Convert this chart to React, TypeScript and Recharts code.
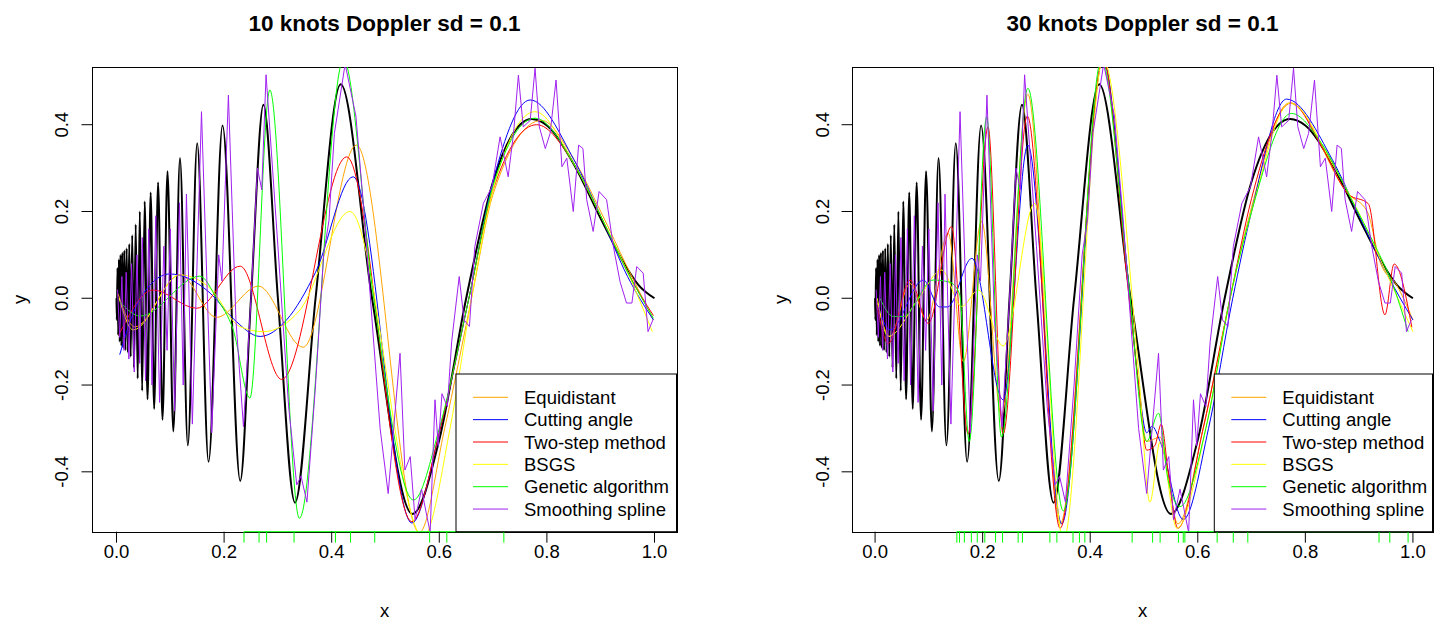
import { LineChart, Line, XAxis, YAxis, ReferenceLine } from 'recharts'

type Pt = [number, number]

const X_TICKS = [0, 0.2, 0.4, 0.6, 0.8, 1.0]
const Y_TICKS = [-0.4, -0.2, 0, 0.2, 0.4]
const Y_DOMAIN: [number, number] = [-0.538, 0.533]

// true Doppler curve (black) at its turning points
const doppler: Pt[] = [
  [0.0, 0.0], [0.0006, -0.05], [0.0019, 0.07], [0.0032, -0.085], [0.0045, 0.09], [0.006, -0.1],
  [0.0075, 0.1], [0.0092, -0.11], [0.0109, 0.105], [0.0127, -0.115], [0.0146, 0.11],
  [0.0167, -0.12], [0.0189, 0.115], [0.0212, -0.125], [0.0237, 0.125], [0.0264, -0.135],
  [0.0292, 0.145], [0.0324, -0.16], [0.0357, 0.17], [0.0394, -0.185], [0.0433, 0.2],
  [0.0477, -0.213], [0.0524, 0.223], [0.0577, -0.233], [0.0635, 0.244], [0.07, -0.255],
  [0.0773, 0.267], [0.0855, -0.28], [0.0948, 0.293], [0.1056, -0.307], [0.118, 0.323],
  [0.1326, -0.339], [0.15, 0.357], [0.1711, -0.377], [0.1971, 0.398], [0.23, -0.421],
  [0.25, 0.0], [0.2731, 0.446], [0.3, 0.0], [0.3318, -0.471], [0.37, 0.0],
  [0.4167, 0.493], [0.475, 0.0], [0.55, -0.497], [0.6, -0.326], [0.65, 0.0],
  [0.7, 0.269], [0.75, 0.4], [0.772, 0.413], [0.8, 0.398], [0.85, 0.309],
  [0.9, 0.184], [0.95, 0.067], [0.97, 0.031], [1.0, 0.0],
]

// smoothing spline (purple), same in both panels
const smoothingSpline: Pt[] = [
  [0.002, 0.02], [0.006, -0.09], [0.01, 0.05], [0.014, -0.12], [0.018, 0.06],
  [0.023, -0.14], [0.028, 0.08], [0.033, -0.17], [0.038, 0.1], [0.043, -0.15],
  [0.048, 0.14], [0.054, -0.19], [0.06, 0.16], [0.066, -0.2], [0.073, 0.19],
  [0.08, -0.24], [0.088, 0.12], [0.094, -0.12], [0.1, 0.16], [0.108, -0.26],
  [0.117, 0.22], [0.124, -0.2], [0.13, 0.24], [0.141, -0.29], [0.158, 0.43],
  [0.177, -0.31], [0.19, 0.1], [0.196, 0.04], [0.208, 0.468], [0.222, -0.05],
  [0.236, -0.296], [0.25, 0.0], [0.262, 0.3], [0.27, 0.25], [0.278, 0.515],
  [0.3, 0.12], [0.32, -0.25], [0.335, -0.43], [0.343, -0.41], [0.354, -0.47],
  [0.37, -0.2], [0.385, 0.1], [0.395, 0.18], [0.405, 0.38], [0.425, 0.54],
  [0.445, 0.42], [0.46, 0.2], [0.475, -0.05], [0.49, -0.3], [0.505, -0.45],
  [0.527, -0.127], [0.536, -0.396], [0.546, -0.365], [0.555, -0.51], [0.567, -0.44],
  [0.583, -0.54], [0.592, -0.234], [0.598, -0.34], [0.605, -0.22], [0.615, -0.25],
  [0.623, -0.1], [0.637, 0.05], [0.646, -0.05], [0.656, -0.065], [0.666, 0.119],
  [0.682, 0.219], [0.698, 0.257], [0.713, 0.372], [0.728, 0.28], [0.738, 0.38],
  [0.747, 0.514], [0.756, 0.395], [0.769, 0.41], [0.778, 0.53], [0.786, 0.395],
  [0.797, 0.345], [0.806, 0.38], [0.817, 0.503], [0.828, 0.303], [0.837, 0.323],
  [0.849, 0.2], [0.859, 0.353], [0.867, 0.345], [0.874, 0.227], [0.886, 0.154],
  [0.897, 0.246], [0.911, 0.227], [0.923, 0.123], [0.936, 0.038], [0.948, -0.011],
  [0.958, -0.011], [0.967, 0.073], [0.979, 0.058], [0.988, -0.077], [0.997, -0.05],
]

// 10 knots
const equidistant10: Pt[] = [
  [0.003, 0.01], [0.034, -0.066], [0.118, 0.054], [0.186, -0.044], [0.264, 0.028],
  [0.347, -0.113], [0.446, 0.353], [0.563, -0.54], [0.61, -0.3], [0.66, 0.0],
  [0.7, 0.24], [0.79, 0.41], [0.85, 0.32], [0.9, 0.2], [0.95, 0.07], [0.998, -0.05],
]
const cuttingAngle10: Pt[] = [
  [0.006, -0.13], [0.04, -0.01], [0.099, 0.056], [0.174, 0.012], [0.217, -0.047],
  [0.267, -0.088], [0.316, -0.05], [0.37, 0.06], [0.44, 0.28], [0.549, -0.518],
  [0.6, -0.31], [0.655, 0.0], [0.7, 0.27], [0.769, 0.457], [0.85, 0.32],
  [0.9, 0.19], [0.95, 0.05], [0.998, -0.05],
]
const twoStep10: Pt[] = [
  [0.004, -0.085], [0.068, 0.019], [0.149, -0.023], [0.23, 0.074], [0.307, -0.187],
  [0.428, 0.326], [0.549, -0.515], [0.6, -0.31], [0.655, 0.0], [0.7, 0.25],
  [0.781, 0.4], [0.85, 0.31], [0.9, 0.19], [0.95, 0.06], [0.998, -0.04],
]
const bsgs10: Pt[] = [
  [0.005, 0.0], [0.031, -0.073], [0.118, 0.054], [0.174, 0.023], [0.229, -0.065],
  [0.273, -0.077], [0.341, -0.027], [0.434, 0.2], [0.57, -0.55], [0.62, -0.3],
  [0.66, 0.0], [0.7, 0.25], [0.778, 0.43], [0.85, 0.31], [0.9, 0.19],
  [0.95, 0.06], [0.996, -0.077],
]
const genetic10: Pt[] = [
  [0.006, -0.008], [0.044, -0.041], [0.155, 0.051], [0.186, 0.0], [0.217, -0.073],
  [0.248, -0.23], [0.285, 0.48], [0.34, -0.507], [0.422, 0.55], [0.478, 0.0],
  [0.552, -0.465], [0.6, -0.3], [0.655, 0.0], [0.7, 0.26], [0.778, 0.415],
  [0.85, 0.31], [0.9, 0.19], [0.95, 0.06], [0.998, -0.046],
]
const knots10 = [0.237, 0.265, 0.279, 0.33, 0.407, 0.435, 0.48, 0.582, 0.614, 0.72]

// 30 knots
const equidistant30: Pt[] = [
  [0.004, -0.01], [0.0277, -0.088], [0.065, 0.034], [0.096, -0.05], [0.136, 0.15],
  [0.164, -0.146], [0.198, 0.177], [0.235, -0.27], [0.284, 0.47], [0.344, -0.52],
  [0.424, 0.55], [0.47, 0.05], [0.49, -0.2], [0.505, -0.33], [0.53, -0.32],
  [0.563, -0.52], [0.61, -0.3], [0.66, 0.0], [0.7, 0.21], [0.77, 0.45],
  [0.88, 0.24], [0.915, 0.2], [0.94, 0.08], [0.97, 0.03], [1.0, -0.05],
]
const cuttingAngle30: Pt[] = [
  [0.006, -0.02], [0.0277, -0.073], [0.0897, 0.042], [0.12, -0.02], [0.135, -0.02],
  [0.18, 0.092], [0.238, -0.234], [0.284, 0.353], [0.347, -0.52], [0.424, 0.55],
  [0.47, 0.05], [0.49, -0.2], [0.505, -0.31], [0.515, -0.295], [0.53, -0.33],
  [0.573, -0.51], [0.62, -0.3], [0.665, 0.0], [0.7, 0.2], [0.765, 0.459],
  [0.85, 0.32], [0.9, 0.19], [0.95, 0.06], [1.0, -0.05],
]
const twoStep30: Pt[] = [
  [0.004, -0.02], [0.0246, -0.104], [0.065, 0.042], [0.099, -0.058], [0.142, 0.165],
  [0.173, -0.313], [0.21, 0.395], [0.238, -0.313], [0.283, 0.42], [0.344, -0.53],
  [0.424, 0.55], [0.468, 0.05], [0.49, -0.2], [0.505, -0.35], [0.52, -0.34],
  [0.532, -0.29], [0.545, -0.4], [0.563, -0.53], [0.61, -0.3], [0.66, 0.0],
  [0.7, 0.23], [0.774, 0.45], [0.83, 0.35], [0.88, 0.24], [0.917, 0.218],
  [0.948, -0.038], [0.965, 0.079], [0.998, -0.067],
]
const bsgs30: Pt[] = [
  [0.004, 0.0], [0.0246, -0.088], [0.081, 0.0], [0.124, 0.065], [0.161, -0.019],
  [0.192, 0.019], [0.238, -0.11], [0.297, 0.219], [0.35, -0.56], [0.424, 0.55],
  [0.49, -0.17], [0.511, -0.47], [0.53, -0.33], [0.561, -0.53], [0.615, -0.3],
  [0.66, 0.0], [0.7, 0.2], [0.772, 0.45], [0.85, 0.31], [0.91, 0.17],
  [0.95, 0.06], [1.0, -0.077],
]
const genetic30: Pt[] = [
  [0.009, 0.0], [0.034, -0.042], [0.052, -0.042], [0.108, 0.042], [0.139, 0.037],
  [0.157, 0.01], [0.175, -0.33], [0.2075, 0.418], [0.235, -0.32], [0.284, 0.484],
  [0.35, -0.49], [0.421, 0.55], [0.47, 0.05], [0.505, -0.33], [0.527, -0.265],
  [0.545, -0.42], [0.567, -0.48], [0.615, -0.3], [0.66, 0.0], [0.7, 0.2],
  [0.774, 0.426], [0.83, 0.357], [0.886, 0.227], [0.93, 0.12], [0.96, 0.04],
  [0.991, -0.077],
]
const knots30 = [
  0.152, 0.157, 0.166, 0.179, 0.19, 0.204, 0.224, 0.237, 0.266, 0.274,
  0.325, 0.338, 0.368, 0.38, 0.39, 0.478, 0.516, 0.53, 0.564, 0.573,
  0.576, 0.636, 0.666, 0.693, 0.937, 0.957, 0.991,
]

const METHODS = ['Equidistant', 'Cutting angle', 'Two-step method', 'BSGS', 'Genetic algorithm', 'Smoothing spline']
const COLORS = ['#FFA500', '#0000FF', '#FF0000', '#FFFF00', '#00FF00', '#A020F0']

const FONT = '"Liberation Sans", Arial, sans-serif'
const W = 717
const H = 622
const PLOT_TOP = 67
const PLOT_BOTTOM = 531.7
const TICK = 11

const toRows = (pts: Pt[]) => pts.map(([x, y]) => ({ x, y }))

const XTick = ({ x, payload }: any) => (
  <text x={x} y={PLOT_BOTTOM + 26} textAnchor="middle" fontSize={18.5} fontFamily={FONT} fill="#000">
    {Number(payload.value).toFixed(1)}
  </text>
)

const YTick = ({ x, y, payload }: any) => (
  <text
    x={x}
    y={y}
    transform={`rotate(-90 ${x} ${y})`}
    textAnchor="middle"
    fontSize={18.5}
    fontFamily={FONT}
    fill="#000"
  >
    {Number(payload.value).toFixed(1)}
  </text>
)

interface PanelProps {
  title: string
  offset: number
  plotLeft: number
  plotRight: number
  xDomain: [number, number]
  fits: Pt[][]
  knots: number[]
  legendLeft: number
}

function Panel({ title, offset, plotLeft, plotRight, xDomain, fits, knots, legendLeft }: PanelProps) {
  const left = plotLeft - offset
  const right = plotRight - offset
  const rugLen = TICK / ((PLOT_BOTTOM - PLOT_TOP) / (Y_DOMAIN[1] - Y_DOMAIN[0]))
  const yMin = Y_DOMAIN[0]
  const midX = (left + right) / 2
  const midY = (PLOT_TOP + PLOT_BOTTOM) / 2
  const legLeft = legendLeft - offset

  return (
    <div style={{ position: 'absolute', left: offset, top: 0, width: W, height: H }}>
      {/* plot box */}
      <div
        style={{
          position: 'absolute',
          left: left - 0.5,
          top: PLOT_TOP - 0.5,
          width: right - left,
          height: PLOT_BOTTOM - PLOT_TOP,
          border: '1px solid #000',
        }}
      />
      <div style={{ position: 'absolute', left: 0, top: 0 }}>
        <LineChart
          width={W}
          height={H}
          margin={{ top: PLOT_TOP, right: W - right, bottom: H - PLOT_BOTTOM - 40, left: left - 60 }}
        >
          <XAxis
            dataKey="x"
            type="number"
            domain={xDomain}
            allowDataOverflow
            ticks={X_TICKS}
            interval={0}
            height={40}
            tickSize={TICK}
            axisLine={false}
            tickLine={{ stroke: '#000' }}
            tick={<XTick />}
          />
          <YAxis
            type="number"
            domain={Y_DOMAIN}
            allowDataOverflow
            ticks={Y_TICKS}
            interval={0}
            width={60}
            tickSize={TICK}
            tickMargin={13}
            axisLine={false}
            tickLine={{ stroke: '#000' }}
            tick={<YTick />}
          />
          <Line data={toRows(doppler)} dataKey="y" type="monotone" stroke="#000" strokeWidth={2} dot={false} isAnimationActive={false} />
          {fits.map((pts, i) => (
            <Line
              key={METHODS[i]}
              data={toRows(pts)}
              dataKey="y"
              type="monotone"
              stroke={COLORS[i]}
              strokeWidth={1}
              dot={false}
              isAnimationActive={false}
            />
          ))}
          <Line data={toRows(smoothingSpline)} dataKey="y" type="linear" stroke={COLORS[5]} strokeWidth={1} dot={false} isAnimationActive={false} />
          {/* knot rug */}
          <ReferenceLine
            segment={[{ x: knots[0], y: yMin }, { x: knots[knots.length - 1], y: yMin }]}
            stroke="#00FF00"
            ifOverflow="visible"
          />
          {knots.map((k, i) => (
            <ReferenceLine
              key={i}
              segment={[{ x: k, y: yMin }, { x: k, y: yMin - rugLen }]}
              stroke="#00FF00"
              ifOverflow="visible"
            />
          ))}
        </LineChart>
      </div>
      <svg width={W} height={H} style={{ position: 'absolute', left: 0, top: 0, pointerEvents: 'none' }}>
        <text x={midX} y={31} textAnchor="middle" fontSize={22.5} fontWeight="bold" fontFamily={FONT}>
          {title}
        </text>
        <text x={midX} y={617} textAnchor="middle" fontSize={18.5} fontFamily={FONT}>
          x
        </text>
        <text
          x={left - 66}
          y={midY}
          transform={`rotate(-90 ${left - 66} ${midY})`}
          textAnchor="middle"
          fontSize={18.5}
          fontFamily={FONT}
        >
          y
        </text>
        {/* legend */}
        <rect x={legLeft} y={374} width={right - legLeft} height={PLOT_BOTTOM - 374} fill="#fff" stroke="#000" />
        {METHODS.map((m, i) => {
          const cy = 397.3 + i * 22.35
          return (
            <g key={m}>
              <line x1={legLeft + 17} x2={legLeft + 52} y1={cy} y2={cy} stroke={COLORS[i]} strokeWidth={1} />
              <text x={legLeft + 68} y={cy + 6.7} fontSize={18.5} fontFamily={FONT} fill="#000">
                {m}
              </text>
            </g>
          )
        })}
      </svg>
    </div>
  )
}

export default function App() {
  return (
    <div style={{ position: 'absolute', left: 0, top: 0, width: 1434, height: H, background: '#fff', overflow: 'hidden' }}>
      <Panel
        title="10 knots Doppler sd = 0.1"
        offset={0}
        plotLeft={92.5}
        plotRight={676.5}
        xDomain={[-0.0446, 1.0409]}
        fits={[equidistant10, cuttingAngle10, twoStep10, bsgs10, genetic10]}
        knots={knots10}
        legendLeft={456}
      />
      <Panel
        title="30 knots Doppler sd = 0.1"
        offset={717}
        plotLeft={852.6}
        plotRight={1432.5}
        xDomain={[-0.0418, 1.0364]}
        fits={[equidistant30, cuttingAngle30, twoStep30, bsgs30, genetic30]}
        knots={knots30}
        legendLeft={1214.3}
      />
    </div>
  )
}
